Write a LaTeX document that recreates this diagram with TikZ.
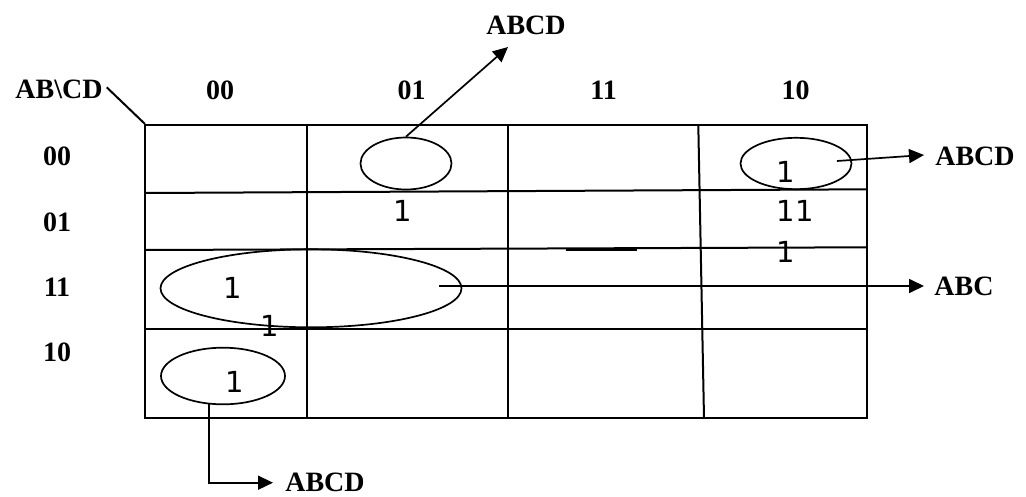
\documentclass[tikz,border=0pt]{standalone}
\usepackage{fontspec}
\setmainfont{Liberation Serif}
\newfontfamily\dvs{DejaVu Sans}
\usetikzlibrary{arrows.meta,shapes.geometric}
\begin{document}
\begin{tikzpicture}[x=1pt,y=-1pt,
  lbl/.style={font=\fontsize{28}{30}\selectfont\bfseries, inner sep=0pt, anchor=base},
  one/.style={font=\dvs\fontsize{29}{31}\selectfont, inner sep=0pt, anchor=base},
  gridline/.style={line width=2pt},
  barline/.style={line width=2.6pt},
  loop/.style={draw, ellipse, line width=1.7pt, inner sep=0pt},
  arr/.style={line width=1.7pt, -{Triangle[length=15pt,width=14pt]}}]
\useasboundingbox (0,0) rectangle (1026,496);
% grid
\draw[gridline] (145,125) -- (866.7,125) -- (866.7,418) -- (145,418) -- cycle;
\draw[gridline] (145,193) -- (866.7,189.3);
\draw[gridline] (145,250) -- (866.7,247.3);
\draw[gridline] (145,329) -- (866.7,329);
\draw[gridline] (306.7,125) -- (306.7,418);
\draw[gridline] (507.5,125) -- (507.5,418);
\draw[gridline] (698.3,125) -- (704,418);
\draw[gridline] (106.7,87.3) -- (145,124);
\draw[barline] (566,250) -- (637,250);
\draw[barline] (541,329) -- (637,329);
% headers
\node[lbl] (corner) at (59,98.3) {AB\textbackslash CD};
\node[lbl] (c00) at (220,99) {00};
\node[lbl] (c01) at (411.5,99) {01};
\node[lbl] (c11) at (603.6,99) {11};
\node[lbl] (c10) at (795.6,99) {10};
\node[lbl] (r00) at (57,165) {00};
\node[lbl] (r01) at (57,231.7) {01};
\node[lbl] (r11) at (57,296.7) {11};
\node[lbl] (r10) at (57,361.7) {10};
% ones
\node[one] (o1) at (403,221) {1};
\node[one] (o2) at (233,298) {1};
\node[one] (o3) at (270,336) {1};
\node[one] (o4) at (235,392) {1};
\node[one] (o5) at (786,182) {1};
\node[one] (o6) at (795,221) {11};
\node[one] (o7) at (786,262) {1};
% loops
\node[loop, minimum width=91pt, minimum height=52pt] (e1) at (406,163.5) {};
\node[loop, minimum width=111pt, minimum height=51.4pt] (e2) at (796,163.5) {};
\node[loop, minimum width=301pt, minimum height=78pt] (e3) at (311,288.3) {};
\node[loop, minimum width=124pt, minimum height=56.6pt] (e4) at (223,376) {};
% output labels
\node[lbl] (l1) at (526,34) {ABCD};
\node[lbl] (l2) at (975,165) {ABCD};
\node[lbl] (l3) at (964,295) {ABC};
\node[lbl] (l4) at (325,491) {ABCD};
% connectors
\coordinate (t1) at (508,47);
\draw[arr] (e1.north) -- (t1);
\coordinate (s2) at (837,161);
\coordinate (t2) at (924,155);
\draw[arr] (s2) -- (t2);
\coordinate (s3) at (439,286);
\coordinate (t3) at (924,286);
\draw[arr] (s3) -- (t3);
\coordinate (s4) at (209,403.3);
\coordinate (t4) at (273,482.7);
\draw[arr] (s4) |- (t4);
\end{tikzpicture}
\end{document}
